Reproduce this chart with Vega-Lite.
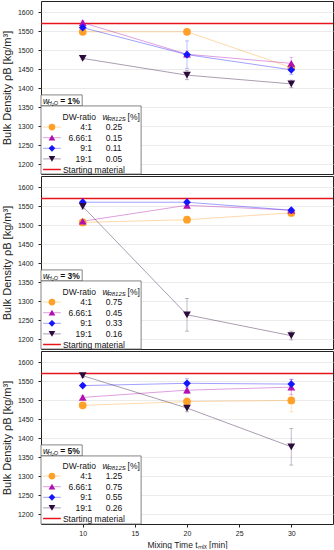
{
  "$schema": "https://vega.github.io/schema/vega-lite/v6.json",
  "padding": {"left": 0, "top": 0, "right": 2, "bottom": 0},
  "spacing": 0,
  "config": {
    "font": "Liberation Sans",
    "view": {"stroke": "#222", "strokeWidth": 1},
    "legend": {"disable": true},
    "axis": {"gridColor": "#e6e6e6", "gridWidth": 0.8, "domain": false, "labelColor": "#222", "titleColor": "#222", "titleFontWeight": "normal", "tickColor": "#222", "tickSize": 3, "labelFontSize": 7, "labelOverlap": false, "format": "d"},
    "axisY": {"labelOverlap": false, "tickCount": 10},
    "axisQuantitative": {"labelOverlap": false}
  },
  "datasets": {
    "pts": [
      {"p": "1", "s": "4:1", "t": 10, "rho": 1549, "lo": 1545, "hi": 1553},
      {"p": "1", "s": "4:1", "t": 20, "rho": 1549, "lo": 1545, "hi": 1553},
      {"p": "1", "s": "4:1", "t": 30, "rho": 1455, "lo": 1447, "hi": 1463},
      {"p": "1", "s": "6.66:1", "t": 10, "rho": 1573, "lo": 1568, "hi": 1578},
      {"p": "1", "s": "6.66:1", "t": 20, "rho": 1490, "lo": 1482, "hi": 1498},
      {"p": "1", "s": "6.66:1", "t": 30, "rho": 1466, "lo": 1450, "hi": 1482},
      {"p": "1", "s": "9:1", "t": 10, "rho": 1560, "lo": 1555, "hi": 1565},
      {"p": "1", "s": "9:1", "t": 20, "rho": 1489, "lo": 1453, "hi": 1525},
      {"p": "1", "s": "9:1", "t": 30, "rho": 1449, "lo": 1437, "hi": 1461},
      {"p": "1", "s": "19:1", "t": 10, "rho": 1479, "lo": 1476, "hi": 1482},
      {"p": "1", "s": "19:1", "t": 20, "rho": 1435, "lo": 1423, "hi": 1447},
      {"p": "1", "s": "19:1", "t": 30, "rho": 1412, "lo": 1402, "hi": 1422},
      {"p": "3", "s": "4:1", "t": 10, "rho": 1508, "lo": 1504, "hi": 1512},
      {"p": "3", "s": "4:1", "t": 20, "rho": 1515, "lo": 1511, "hi": 1519},
      {"p": "3", "s": "4:1", "t": 30, "rho": 1533, "lo": 1529, "hi": 1537},
      {"p": "3", "s": "6.66:1", "t": 10, "rho": 1511, "lo": 1506, "hi": 1516},
      {"p": "3", "s": "6.66:1", "t": 20, "rho": 1553, "lo": 1549, "hi": 1557},
      {"p": "3", "s": "6.66:1", "t": 30, "rho": 1540, "lo": 1536, "hi": 1544},
      {"p": "3", "s": "9:1", "t": 10, "rho": 1561, "lo": 1557, "hi": 1565},
      {"p": "3", "s": "9:1", "t": 20, "rho": 1561, "lo": 1556, "hi": 1566},
      {"p": "3", "s": "9:1", "t": 30, "rho": 1540, "lo": 1536, "hi": 1544},
      {"p": "3", "s": "19:1", "t": 10, "rho": 1550, "lo": 1543, "hi": 1557},
      {"p": "3", "s": "19:1", "t": 20, "rho": 1265, "lo": 1222, "hi": 1308},
      {"p": "3", "s": "19:1", "t": 30, "rho": 1210, "lo": 1199, "hi": 1222},
      {"p": "5", "s": "4:1", "t": 10, "rho": 1487, "lo": 1483, "hi": 1491},
      {"p": "5", "s": "4:1", "t": 20, "rho": 1497, "lo": 1487, "hi": 1507},
      {"p": "5", "s": "4:1", "t": 30, "rho": 1500, "lo": 1470, "hi": 1530},
      {"p": "5", "s": "6.66:1", "t": 10, "rho": 1508, "lo": 1503, "hi": 1513},
      {"p": "5", "s": "6.66:1", "t": 20, "rho": 1527, "lo": 1518, "hi": 1536},
      {"p": "5", "s": "6.66:1", "t": 30, "rho": 1535, "lo": 1515, "hi": 1555},
      {"p": "5", "s": "9:1", "t": 10, "rho": 1539, "lo": 1535, "hi": 1543},
      {"p": "5", "s": "9:1", "t": 20, "rho": 1545, "lo": 1533, "hi": 1557},
      {"p": "5", "s": "9:1", "t": 30, "rho": 1543, "lo": 1530, "hi": 1556},
      {"p": "5", "s": "19:1", "t": 10, "rho": 1565, "lo": 1560, "hi": 1570},
      {"p": "5", "s": "19:1", "t": 20, "rho": 1480, "lo": 1470, "hi": 1490},
      {"p": "5", "s": "19:1", "t": 30, "rho": 1378, "lo": 1330, "hi": 1426}
    ],
    "leg": [
      {"p": "1", "s": "hdr", "wv": ""},
      {"p": "1", "s": "4:1", "wv": "0.25"},
      {"p": "1", "s": "6.66:1", "wv": "0.15"},
      {"p": "1", "s": "9:1", "wv": "0.11"},
      {"p": "1", "s": "19:1", "wv": "0.05"},
      {"p": "1", "s": "SM", "wv": ""},
      {"p": "3", "s": "hdr", "wv": ""},
      {"p": "3", "s": "4:1", "wv": "0.75"},
      {"p": "3", "s": "6.66:1", "wv": "0.45"},
      {"p": "3", "s": "9:1", "wv": "0.33"},
      {"p": "3", "s": "19:1", "wv": "0.16"},
      {"p": "3", "s": "SM", "wv": ""},
      {"p": "5", "s": "hdr", "wv": ""},
      {"p": "5", "s": "4:1", "wv": "1.25"},
      {"p": "5", "s": "6.66:1", "wv": "0.75"},
      {"p": "5", "s": "9:1", "wv": "0.55"},
      {"p": "5", "s": "19:1", "wv": "0.26"},
      {"p": "5", "s": "SM", "wv": ""}
    ],
    "panels": [
      {"p": "1", "lab": "= 1%", "start": 1571},
      {"p": "3", "lab": "= 3%", "start": 1571},
      {"p": "5", "lab": "= 5%", "start": 1571}
    ]
  },
  "vconcat": [
    {
      "width": 292, "height": 173,
      "resolve": {"scale": {"y": "independent"}},
      "layer": [
        {
          "layer": [
            {
              "data": {"name": "panels"},
              "transform": [{"filter": "datum.p == '1'"}],
              "layer": [
                {"mark": {"type": "rule", "color": "#e8141c", "strokeWidth": 1.5}, "encoding": {"y": {"field": "start", "type": "quantitative", "scale": {"domain": [1175, 1630], "nice": false, "zero": false}, "axis": {"values": [1200, 1250, 1300, 1350, 1400, 1450, 1500, 1550, 1600], "labelOverlap": false, "tickCount": 10, "title": "Bulk Density ρB [kg/m³]", "titleFontSize": 11, "labelPadding": 5, "titlePadding": 5}}}},
                {"mark": {"type": "rect", "fill": "white", "stroke": "#666", "strokeWidth": 0.8}, "encoding": {"x": {"datum": 6}, "x2": {"datum": 9.95}, "y": {"datum": 1383, "axis": {"values": [1200, 1250, 1300, 1350, 1400, 1450, 1500, 1550, 1600], "labelOverlap": false, "tickCount": 10, "title": "Bulk Density ρB [kg/m³]", "titleFontSize": 11, "labelPadding": 5, "titlePadding": 5}}, "y2": {"datum": 1354}}},
                {"mark": {"type": "rect", "fill": "white", "stroke": "#666", "strokeWidth": 0.8}, "encoding": {"x": {"datum": 6}, "x2": {"datum": 15.6}, "y": {"datum": 1354, "axis": {"values": [1200, 1250, 1300, 1350, 1400, 1450, 1500, 1550, 1600], "labelOverlap": false, "tickCount": 10, "title": "Bulk Density ρB [kg/m³]", "titleFontSize": 11, "labelPadding": 5, "titlePadding": 5}}, "y2": {"datum": 1175}}},
                {"mark": {"type": "text", "align": "left", "baseline": "middle", "fontSize": 8.5, "fontStyle": "italic", "color": "#111"}, "encoding": {"x": {"datum": 6.2}, "y": {"datum": 1368, "axis": {"values": [1200, 1250, 1300, 1350, 1400, 1450, 1500, 1550, 1600], "labelOverlap": false, "tickCount": 10, "title": "Bulk Density ρB [kg/m³]", "titleFontSize": 11, "labelPadding": 5, "titlePadding": 5}}, "text": {"value": "w"}}},
                {"mark": {"type": "text", "align": "left", "baseline": "middle", "fontSize": 5.5, "fontStyle": "italic", "dy": 2.5, "color": "#111"}, "encoding": {"x": {"datum": 6.65}, "y": {"datum": 1368, "axis": {"values": [1200, 1250, 1300, 1350, 1400, 1450, 1500, 1550, 1600], "labelOverlap": false, "tickCount": 10, "title": "Bulk Density ρB [kg/m³]", "titleFontSize": 11, "labelPadding": 5, "titlePadding": 5}}, "text": {"value": "H₂O"}}},
                {"mark": {"type": "text", "align": "left", "baseline": "middle", "fontSize": 8.5, "fontWeight": "bold", "color": "#111"}, "encoding": {"x": {"datum": 7.85}, "y": {"datum": 1368, "axis": {"values": [1200, 1250, 1300, 1350, 1400, 1450, 1500, 1550, 1600], "labelOverlap": false, "tickCount": 10, "title": "Bulk Density ρB [kg/m³]", "titleFontSize": 11, "labelPadding": 5, "titlePadding": 5}}, "text": {"field": "lab"}}}
              ]
            },
            {
              "data": {"name": "pts"},
              "transform": [{"filter": "datum.p == '1'"}],
              "encoding": {
                "x": {"field": "t", "type": "quantitative", "scale": {"domain": [6, 34], "nice": false, "zero": false}, "axis": {"values": [10, 15, 20, 25, 30], "labels": false, "ticks": false, "title": null}},
                "color": {"field": "s", "type": "nominal", "scale": {"domain": ["4:1", "6.66:1", "9:1", "19:1"], "range": ["#ffa028", "#b010b0", "#1414ff", "#2c0a3c"]}},
                "y": {"field": "rho", "type": "quantitative", "scale": {"domain": [1175, 1630], "nice": false, "zero": false}, "axis": {"values": [1200, 1250, 1300, 1350, 1400, 1450, 1500, 1550, 1600], "labelOverlap": false, "tickCount": 10, "title": "Bulk Density ρB [kg/m³]", "titleFontSize": 11, "labelPadding": 5, "titlePadding": 5}}
              },
              "layer": [
                {"mark": {"type": "rule", "strokeWidth": 0.8, "opacity": 0.35}, "encoding": {"y": {"field": "lo", "type": "quantitative"}, "y2": {"field": "hi"}}},
                {"mark": {"type": "tick", "orient": "horizontal", "size": 4, "thickness": 0.8, "opacity": 0.35}, "encoding": {"y": {"field": "lo", "type": "quantitative"}}},
                {"mark": {"type": "tick", "orient": "horizontal", "size": 4, "thickness": 0.8, "opacity": 0.35}, "encoding": {"y": {"field": "hi", "type": "quantitative"}}},
                {"mark": {"type": "line", "strokeWidth": 1, "opacity": 0.4}, "encoding": {"detail": {"field": "s"}}},
                {"mark": {"type": "point", "filled": true, "opacity": 1, "size": 60}, "encoding": {"shape": {"field": "s", "type": "nominal", "scale": {"domain": ["4:1", "6.66:1", "9:1", "19:1"], "range": ["circle", "triangle-up", "diamond", "triangle-down"]}}}}
              ]
            }
          ]
        },
        {
          "data": {"name": "leg"},
          "transform": [{"filter": "datum.p == '1'"}],
          "encoding": {"y": {"field": "s", "type": "nominal", "scale": {"type": "point", "domain": ["hdr", "4:1", "6.66:1", "9:1", "19:1", "SM"], "range": [115.5, 168.5], "padding": 0}, "axis": null}},
          "layer": [
            {"transform": [{"filter": "datum.s == 'hdr'"}], "mark": {"type": "text", "align": "left", "baseline": "middle", "fontSize": 8.5, "color": "#111"}, "encoding": {"x": {"datum": 8.07}, "text": {"value": "DW-ratio"}}},
            {"transform": [{"filter": "datum.s == 'hdr'"}], "mark": {"type": "text", "align": "left", "baseline": "middle", "fontSize": 8.5, "fontStyle": "italic", "color": "#111"}, "encoding": {"x": {"datum": 11.9}, "text": {"value": "w"}}},
            {"transform": [{"filter": "datum.s == 'hdr'"}], "mark": {"type": "text", "align": "left", "baseline": "middle", "fontSize": 6, "fontStyle": "italic", "dy": 2.5, "color": "#111"}, "encoding": {"x": {"datum": 12.37}, "text": {"value": "R812S"}}},
            {"transform": [{"filter": "datum.s == 'hdr'"}], "mark": {"type": "text", "align": "left", "baseline": "middle", "fontSize": 8.5, "color": "#111"}, "encoding": {"x": {"datum": 14.3}, "text": {"value": "[%]"}}},
            {"transform": [{"filter": "datum.s != 'hdr' && datum.s != 'SM'"}], "mark": {"type": "rule", "strokeWidth": 1, "opacity": 0.4}, "encoding": {"x": {"datum": 6.2}, "x2": {"datum": 7.9}, "color": {"field": "s", "type": "nominal"}}},
            {"transform": [{"filter": "datum.s != 'hdr' && datum.s != 'SM'"}], "mark": {"type": "point", "filled": true, "opacity": 1, "size": 45}, "encoding": {"x": {"datum": 7.05}, "color": {"field": "s", "type": "nominal"}, "shape": {"field": "s", "type": "nominal"}}},
            {"transform": [{"filter": "datum.s != 'hdr' && datum.s != 'SM'"}], "mark": {"type": "text", "align": "right", "baseline": "middle", "fontSize": 8.5, "color": "#111"}, "encoding": {"x": {"datum": 10.9}, "text": {"field": "s"}}},
            {"transform": [{"filter": "datum.s != 'hdr' && datum.s != 'SM'"}], "mark": {"type": "text", "align": "left", "baseline": "middle", "fontSize": 8.5, "color": "#111"}, "encoding": {"x": {"datum": 12.2}, "text": {"field": "wv"}}},
            {"transform": [{"filter": "datum.s == 'SM'"}], "mark": {"type": "rule", "strokeWidth": 1.5, "color": "#e8141c"}, "encoding": {"x": {"datum": 6.2}, "x2": {"datum": 7.9}}},
            {"transform": [{"filter": "datum.s == 'SM'"}], "mark": {"type": "text", "align": "left", "baseline": "middle", "fontSize": 8.5, "color": "#111"}, "encoding": {"x": {"datum": 8.1}, "text": {"value": "Starting material"}}}
          ]
        }
      ]
    },
    {
      "width": 292, "height": 173,
      "resolve": {"scale": {"y": "independent"}},
      "layer": [
        {
          "layer": [
            {
              "data": {"name": "panels"},
              "transform": [{"filter": "datum.p == '3'"}],
              "layer": [
                {"mark": {"type": "rule", "color": "#e8141c", "strokeWidth": 1.5}, "encoding": {"y": {"field": "start", "type": "quantitative", "scale": {"domain": [1175, 1630], "nice": false, "zero": false}, "axis": {"values": [1200, 1250, 1300, 1350, 1400, 1450, 1500, 1550, 1600], "labelOverlap": false, "tickCount": 10, "title": "Bulk Density ρB [kg/m³]", "titleFontSize": 11, "labelPadding": 5, "titlePadding": 5}}}},
                {"mark": {"type": "rect", "fill": "white", "stroke": "#666", "strokeWidth": 0.8}, "encoding": {"x": {"datum": 6}, "x2": {"datum": 9.95}, "y": {"datum": 1383, "axis": {"values": [1200, 1250, 1300, 1350, 1400, 1450, 1500, 1550, 1600], "labelOverlap": false, "tickCount": 10, "title": "Bulk Density ρB [kg/m³]", "titleFontSize": 11, "labelPadding": 5, "titlePadding": 5}}, "y2": {"datum": 1354}}},
                {"mark": {"type": "rect", "fill": "white", "stroke": "#666", "strokeWidth": 0.8}, "encoding": {"x": {"datum": 6}, "x2": {"datum": 15.6}, "y": {"datum": 1354, "axis": {"values": [1200, 1250, 1300, 1350, 1400, 1450, 1500, 1550, 1600], "labelOverlap": false, "tickCount": 10, "title": "Bulk Density ρB [kg/m³]", "titleFontSize": 11, "labelPadding": 5, "titlePadding": 5}}, "y2": {"datum": 1175}}},
                {"mark": {"type": "text", "align": "left", "baseline": "middle", "fontSize": 8.5, "fontStyle": "italic", "color": "#111"}, "encoding": {"x": {"datum": 6.2}, "y": {"datum": 1368, "axis": {"values": [1200, 1250, 1300, 1350, 1400, 1450, 1500, 1550, 1600], "labelOverlap": false, "tickCount": 10, "title": "Bulk Density ρB [kg/m³]", "titleFontSize": 11, "labelPadding": 5, "titlePadding": 5}}, "text": {"value": "w"}}},
                {"mark": {"type": "text", "align": "left", "baseline": "middle", "fontSize": 5.5, "fontStyle": "italic", "dy": 2.5, "color": "#111"}, "encoding": {"x": {"datum": 6.65}, "y": {"datum": 1368, "axis": {"values": [1200, 1250, 1300, 1350, 1400, 1450, 1500, 1550, 1600], "labelOverlap": false, "tickCount": 10, "title": "Bulk Density ρB [kg/m³]", "titleFontSize": 11, "labelPadding": 5, "titlePadding": 5}}, "text": {"value": "H₂O"}}},
                {"mark": {"type": "text", "align": "left", "baseline": "middle", "fontSize": 8.5, "fontWeight": "bold", "color": "#111"}, "encoding": {"x": {"datum": 7.85}, "y": {"datum": 1368, "axis": {"values": [1200, 1250, 1300, 1350, 1400, 1450, 1500, 1550, 1600], "labelOverlap": false, "tickCount": 10, "title": "Bulk Density ρB [kg/m³]", "titleFontSize": 11, "labelPadding": 5, "titlePadding": 5}}, "text": {"field": "lab"}}}
              ]
            },
            {
              "data": {"name": "pts"},
              "transform": [{"filter": "datum.p == '3'"}],
              "encoding": {
                "x": {"field": "t", "type": "quantitative", "scale": {"domain": [6, 34], "nice": false, "zero": false}, "axis": {"values": [10, 15, 20, 25, 30], "labels": false, "ticks": false, "title": null}},
                "color": {"field": "s", "type": "nominal", "scale": {"domain": ["4:1", "6.66:1", "9:1", "19:1"], "range": ["#ffa028", "#b010b0", "#1414ff", "#2c0a3c"]}},
                "y": {"field": "rho", "type": "quantitative", "scale": {"domain": [1175, 1630], "nice": false, "zero": false}, "axis": {"values": [1200, 1250, 1300, 1350, 1400, 1450, 1500, 1550, 1600], "labelOverlap": false, "tickCount": 10, "title": "Bulk Density ρB [kg/m³]", "titleFontSize": 11, "labelPadding": 5, "titlePadding": 5}}
              },
              "layer": [
                {"mark": {"type": "rule", "strokeWidth": 0.8, "opacity": 0.35}, "encoding": {"y": {"field": "lo", "type": "quantitative"}, "y2": {"field": "hi"}}},
                {"mark": {"type": "tick", "orient": "horizontal", "size": 4, "thickness": 0.8, "opacity": 0.35}, "encoding": {"y": {"field": "lo", "type": "quantitative"}}},
                {"mark": {"type": "tick", "orient": "horizontal", "size": 4, "thickness": 0.8, "opacity": 0.35}, "encoding": {"y": {"field": "hi", "type": "quantitative"}}},
                {"mark": {"type": "line", "strokeWidth": 1, "opacity": 0.4}, "encoding": {"detail": {"field": "s"}}},
                {"mark": {"type": "point", "filled": true, "opacity": 1, "size": 60}, "encoding": {"shape": {"field": "s", "type": "nominal", "scale": {"domain": ["4:1", "6.66:1", "9:1", "19:1"], "range": ["circle", "triangle-up", "diamond", "triangle-down"]}}}}
              ]
            }
          ]
        },
        {
          "data": {"name": "leg"},
          "transform": [{"filter": "datum.p == '3'"}],
          "encoding": {"y": {"field": "s", "type": "nominal", "scale": {"type": "point", "domain": ["hdr", "4:1", "6.66:1", "9:1", "19:1", "SM"], "range": [115.5, 168.5], "padding": 0}, "axis": null}},
          "layer": [
            {"transform": [{"filter": "datum.s == 'hdr'"}], "mark": {"type": "text", "align": "left", "baseline": "middle", "fontSize": 8.5, "color": "#111"}, "encoding": {"x": {"datum": 8.07}, "text": {"value": "DW-ratio"}}},
            {"transform": [{"filter": "datum.s == 'hdr'"}], "mark": {"type": "text", "align": "left", "baseline": "middle", "fontSize": 8.5, "fontStyle": "italic", "color": "#111"}, "encoding": {"x": {"datum": 11.9}, "text": {"value": "w"}}},
            {"transform": [{"filter": "datum.s == 'hdr'"}], "mark": {"type": "text", "align": "left", "baseline": "middle", "fontSize": 6, "fontStyle": "italic", "dy": 2.5, "color": "#111"}, "encoding": {"x": {"datum": 12.37}, "text": {"value": "R812S"}}},
            {"transform": [{"filter": "datum.s == 'hdr'"}], "mark": {"type": "text", "align": "left", "baseline": "middle", "fontSize": 8.5, "color": "#111"}, "encoding": {"x": {"datum": 14.3}, "text": {"value": "[%]"}}},
            {"transform": [{"filter": "datum.s != 'hdr' && datum.s != 'SM'"}], "mark": {"type": "rule", "strokeWidth": 1, "opacity": 0.4}, "encoding": {"x": {"datum": 6.2}, "x2": {"datum": 7.9}, "color": {"field": "s", "type": "nominal"}}},
            {"transform": [{"filter": "datum.s != 'hdr' && datum.s != 'SM'"}], "mark": {"type": "point", "filled": true, "opacity": 1, "size": 45}, "encoding": {"x": {"datum": 7.05}, "color": {"field": "s", "type": "nominal"}, "shape": {"field": "s", "type": "nominal"}}},
            {"transform": [{"filter": "datum.s != 'hdr' && datum.s != 'SM'"}], "mark": {"type": "text", "align": "right", "baseline": "middle", "fontSize": 8.5, "color": "#111"}, "encoding": {"x": {"datum": 10.9}, "text": {"field": "s"}}},
            {"transform": [{"filter": "datum.s != 'hdr' && datum.s != 'SM'"}], "mark": {"type": "text", "align": "left", "baseline": "middle", "fontSize": 8.5, "color": "#111"}, "encoding": {"x": {"datum": 12.2}, "text": {"field": "wv"}}},
            {"transform": [{"filter": "datum.s == 'SM'"}], "mark": {"type": "rule", "strokeWidth": 1.5, "color": "#e8141c"}, "encoding": {"x": {"datum": 6.2}, "x2": {"datum": 7.9}}},
            {"transform": [{"filter": "datum.s == 'SM'"}], "mark": {"type": "text", "align": "left", "baseline": "middle", "fontSize": 8.5, "color": "#111"}, "encoding": {"x": {"datum": 8.1}, "text": {"value": "Starting material"}}}
          ]
        }
      ]
    },
    {
      "width": 292, "height": 173,
      "resolve": {"scale": {"y": "independent"}},
      "layer": [
        {
          "layer": [
            {
              "data": {"name": "panels"},
              "transform": [{"filter": "datum.p == '5'"}],
              "layer": [
                {"mark": {"type": "rule", "color": "#e8141c", "strokeWidth": 1.5}, "encoding": {"y": {"field": "start", "type": "quantitative", "scale": {"domain": [1175, 1630], "nice": false, "zero": false}, "axis": {"values": [1200, 1250, 1300, 1350, 1400, 1450, 1500, 1550, 1600], "labelOverlap": false, "tickCount": 10, "title": "Bulk Density ρB [kg/m³]", "titleFontSize": 11, "labelPadding": 5, "titlePadding": 5}}}},
                {"mark": {"type": "rect", "fill": "white", "stroke": "#666", "strokeWidth": 0.8}, "encoding": {"x": {"datum": 6}, "x2": {"datum": 9.95}, "y": {"datum": 1383, "axis": {"values": [1200, 1250, 1300, 1350, 1400, 1450, 1500, 1550, 1600], "labelOverlap": false, "tickCount": 10, "title": "Bulk Density ρB [kg/m³]", "titleFontSize": 11, "labelPadding": 5, "titlePadding": 5}}, "y2": {"datum": 1354}}},
                {"mark": {"type": "rect", "fill": "white", "stroke": "#666", "strokeWidth": 0.8}, "encoding": {"x": {"datum": 6}, "x2": {"datum": 15.6}, "y": {"datum": 1354, "axis": {"values": [1200, 1250, 1300, 1350, 1400, 1450, 1500, 1550, 1600], "labelOverlap": false, "tickCount": 10, "title": "Bulk Density ρB [kg/m³]", "titleFontSize": 11, "labelPadding": 5, "titlePadding": 5}}, "y2": {"datum": 1175}}},
                {"mark": {"type": "text", "align": "left", "baseline": "middle", "fontSize": 8.5, "fontStyle": "italic", "color": "#111"}, "encoding": {"x": {"datum": 6.2}, "y": {"datum": 1368, "axis": {"values": [1200, 1250, 1300, 1350, 1400, 1450, 1500, 1550, 1600], "labelOverlap": false, "tickCount": 10, "title": "Bulk Density ρB [kg/m³]", "titleFontSize": 11, "labelPadding": 5, "titlePadding": 5}}, "text": {"value": "w"}}},
                {"mark": {"type": "text", "align": "left", "baseline": "middle", "fontSize": 5.5, "fontStyle": "italic", "dy": 2.5, "color": "#111"}, "encoding": {"x": {"datum": 6.65}, "y": {"datum": 1368, "axis": {"values": [1200, 1250, 1300, 1350, 1400, 1450, 1500, 1550, 1600], "labelOverlap": false, "tickCount": 10, "title": "Bulk Density ρB [kg/m³]", "titleFontSize": 11, "labelPadding": 5, "titlePadding": 5}}, "text": {"value": "H₂O"}}},
                {"mark": {"type": "text", "align": "left", "baseline": "middle", "fontSize": 8.5, "fontWeight": "bold", "color": "#111"}, "encoding": {"x": {"datum": 7.85}, "y": {"datum": 1368, "axis": {"values": [1200, 1250, 1300, 1350, 1400, 1450, 1500, 1550, 1600], "labelOverlap": false, "tickCount": 10, "title": "Bulk Density ρB [kg/m³]", "titleFontSize": 11, "labelPadding": 5, "titlePadding": 5}}, "text": {"field": "lab"}}}
              ]
            },
            {
              "data": {"name": "pts"},
              "transform": [{"filter": "datum.p == '5'"}],
              "encoding": {
                "x": {"field": "t", "type": "quantitative", "scale": {"domain": [6, 34], "nice": false, "zero": false}, "axis": {"values": [10, 15, 20, 25, 30], "title": "Mixing Time tₘᵢₓ [min]", "titleFontSize": 8.5, "labelPadding": 2, "titlePadding": 4}},
                "color": {"field": "s", "type": "nominal", "scale": {"domain": ["4:1", "6.66:1", "9:1", "19:1"], "range": ["#ffa028", "#b010b0", "#1414ff", "#2c0a3c"]}},
                "y": {"field": "rho", "type": "quantitative", "scale": {"domain": [1175, 1630], "nice": false, "zero": false}, "axis": {"values": [1200, 1250, 1300, 1350, 1400, 1450, 1500, 1550, 1600], "labelOverlap": false, "tickCount": 10, "title": "Bulk Density ρB [kg/m³]", "titleFontSize": 11, "labelPadding": 5, "titlePadding": 5}}
              },
              "layer": [
                {"mark": {"type": "rule", "strokeWidth": 0.8, "opacity": 0.35}, "encoding": {"y": {"field": "lo", "type": "quantitative"}, "y2": {"field": "hi"}}},
                {"mark": {"type": "tick", "orient": "horizontal", "size": 4, "thickness": 0.8, "opacity": 0.35}, "encoding": {"y": {"field": "lo", "type": "quantitative"}}},
                {"mark": {"type": "tick", "orient": "horizontal", "size": 4, "thickness": 0.8, "opacity": 0.35}, "encoding": {"y": {"field": "hi", "type": "quantitative"}}},
                {"mark": {"type": "line", "strokeWidth": 1, "opacity": 0.4}, "encoding": {"detail": {"field": "s"}}},
                {"mark": {"type": "point", "filled": true, "opacity": 1, "size": 60}, "encoding": {"shape": {"field": "s", "type": "nominal", "scale": {"domain": ["4:1", "6.66:1", "9:1", "19:1"], "range": ["circle", "triangle-up", "diamond", "triangle-down"]}}}}
              ]
            }
          ]
        },
        {
          "data": {"name": "leg"},
          "transform": [{"filter": "datum.p == '5'"}],
          "encoding": {"y": {"field": "s", "type": "nominal", "scale": {"type": "point", "domain": ["hdr", "4:1", "6.66:1", "9:1", "19:1", "SM"], "range": [114.5, 167.5], "padding": 0}, "axis": null}},
          "layer": [
            {"transform": [{"filter": "datum.s == 'hdr'"}], "mark": {"type": "text", "align": "left", "baseline": "middle", "fontSize": 8.5, "color": "#111"}, "encoding": {"x": {"datum": 8.07}, "text": {"value": "DW-ratio"}}},
            {"transform": [{"filter": "datum.s == 'hdr'"}], "mark": {"type": "text", "align": "left", "baseline": "middle", "fontSize": 8.5, "fontStyle": "italic", "color": "#111"}, "encoding": {"x": {"datum": 11.9}, "text": {"value": "w"}}},
            {"transform": [{"filter": "datum.s == 'hdr'"}], "mark": {"type": "text", "align": "left", "baseline": "middle", "fontSize": 6, "fontStyle": "italic", "dy": 2.5, "color": "#111"}, "encoding": {"x": {"datum": 12.37}, "text": {"value": "R812S"}}},
            {"transform": [{"filter": "datum.s == 'hdr'"}], "mark": {"type": "text", "align": "left", "baseline": "middle", "fontSize": 8.5, "color": "#111"}, "encoding": {"x": {"datum": 14.3}, "text": {"value": "[%]"}}},
            {"transform": [{"filter": "datum.s != 'hdr' && datum.s != 'SM'"}], "mark": {"type": "rule", "strokeWidth": 1, "opacity": 0.4}, "encoding": {"x": {"datum": 6.2}, "x2": {"datum": 7.9}, "color": {"field": "s", "type": "nominal"}}},
            {"transform": [{"filter": "datum.s != 'hdr' && datum.s != 'SM'"}], "mark": {"type": "point", "filled": true, "opacity": 1, "size": 45}, "encoding": {"x": {"datum": 7.05}, "color": {"field": "s", "type": "nominal"}, "shape": {"field": "s", "type": "nominal"}}},
            {"transform": [{"filter": "datum.s != 'hdr' && datum.s != 'SM'"}], "mark": {"type": "text", "align": "right", "baseline": "middle", "fontSize": 8.5, "color": "#111"}, "encoding": {"x": {"datum": 10.9}, "text": {"field": "s"}}},
            {"transform": [{"filter": "datum.s != 'hdr' && datum.s != 'SM'"}], "mark": {"type": "text", "align": "left", "baseline": "middle", "fontSize": 8.5, "color": "#111"}, "encoding": {"x": {"datum": 12.2}, "text": {"field": "wv"}}},
            {"transform": [{"filter": "datum.s == 'SM'"}], "mark": {"type": "rule", "strokeWidth": 1.5, "color": "#e8141c"}, "encoding": {"x": {"datum": 6.2}, "x2": {"datum": 7.9}}},
            {"transform": [{"filter": "datum.s == 'SM'"}], "mark": {"type": "text", "align": "left", "baseline": "middle", "fontSize": 8.5, "color": "#111"}, "encoding": {"x": {"datum": 8.1}, "text": {"value": "Starting material"}}}
          ]
        }
      ]
    }
  ]
}
